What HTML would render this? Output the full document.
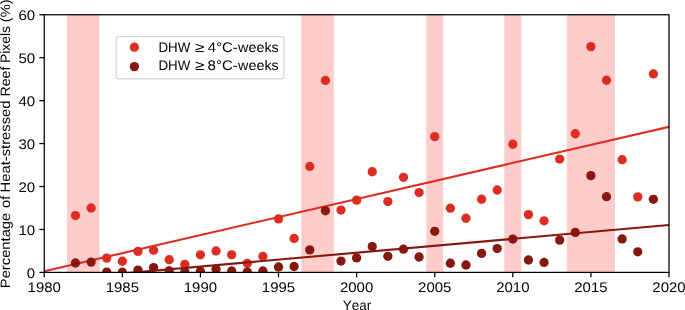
<!DOCTYPE html>
<html lang="en"><head><meta charset="utf-8"><title>Heat-stressed reef pixels</title>
<style>
html,body{margin:0;padding:0;background:#fff;}
body{width:685px;height:310px;overflow:hidden;}
svg{display:block;will-change:transform;}
svg text{text-rendering:geometricPrecision;}
text{font-family:"Liberation Sans",sans-serif;font-size:13.9px;fill:#000;font-kerning:none;}
</style></head><body>
<svg width="685" height="310" viewBox="0 0 685 310">
<rect x="0" y="0" width="685" height="310" fill="#ffffff"/>
<defs><clipPath id="ax"><rect x="44.25" y="14.75" width="624.75" height="257.65"/></clipPath></defs>
<g clip-path="url(#ax)">
<rect x="67.03" y="12.75" width="32.54" height="261.65" fill="#ffcccc"/>
<rect x="301.31" y="12.75" width="32.54" height="261.65" fill="#ffcccc"/>
<rect x="426.26" y="12.75" width="16.92" height="261.65" fill="#ffcccc"/>
<rect x="504.35" y="12.75" width="16.92" height="261.65" fill="#ffcccc"/>
<rect x="566.83" y="12.75" width="48.16" height="261.65" fill="#ffcccc"/>
<g fill="#dd2c22">
<circle cx="75.49" cy="215.54" r="4.65"/>
<circle cx="91.11" cy="208.02" r="4.65"/>
<circle cx="106.72" cy="258.09" r="4.65"/>
<circle cx="122.34" cy="261.23" r="4.65"/>
<circle cx="137.96" cy="251.39" r="4.65"/>
<circle cx="153.58" cy="250.19" r="4.65"/>
<circle cx="169.20" cy="259.72" r="4.65"/>
<circle cx="184.82" cy="264.41" r="4.65"/>
<circle cx="200.44" cy="254.83" r="4.65"/>
<circle cx="216.06" cy="250.92" r="4.65"/>
<circle cx="231.68" cy="254.83" r="4.65"/>
<circle cx="247.29" cy="263.29" r="4.65"/>
<circle cx="262.91" cy="256.29" r="4.65"/>
<circle cx="278.53" cy="218.97" r="4.65"/>
<circle cx="294.15" cy="238.47" r="4.65"/>
<circle cx="309.77" cy="166.46" r="4.65"/>
<circle cx="325.39" cy="80.44" r="4.65"/>
<circle cx="341.01" cy="210.08" r="4.65"/>
<circle cx="356.62" cy="200.16" r="4.65"/>
<circle cx="372.24" cy="171.74" r="4.65"/>
<circle cx="387.86" cy="201.58" r="4.65"/>
<circle cx="403.48" cy="177.32" r="4.65"/>
<circle cx="419.10" cy="192.56" r="4.65"/>
<circle cx="434.72" cy="136.65" r="4.65"/>
<circle cx="450.34" cy="208.19" r="4.65"/>
<circle cx="465.96" cy="218.24" r="4.65"/>
<circle cx="481.57" cy="199.26" r="4.65"/>
<circle cx="497.19" cy="189.99" r="4.65"/>
<circle cx="512.81" cy="144.25" r="4.65"/>
<circle cx="528.43" cy="214.59" r="4.65"/>
<circle cx="544.05" cy="220.78" r="4.65"/>
<circle cx="559.67" cy="159.03" r="4.65"/>
<circle cx="575.29" cy="133.73" r="4.65"/>
<circle cx="590.91" cy="46.61" r="4.65"/>
<circle cx="606.52" cy="80.27" r="4.65"/>
<circle cx="622.14" cy="159.71" r="4.65"/>
<circle cx="637.76" cy="196.85" r="4.65"/>
<circle cx="653.38" cy="73.96" r="4.65"/>
</g>
<line x1="44.25" y1="271.20" x2="669.00" y2="126.80" stroke="#dd2c22" stroke-width="2.1"/>
<g fill="#86180f">
<circle cx="75.49" cy="262.99" r="4.65"/>
<circle cx="91.11" cy="262.09" r="4.65"/>
<circle cx="106.72" cy="272.05" r="4.65"/>
<circle cx="122.34" cy="272.26" r="4.65"/>
<circle cx="137.96" cy="270.12" r="4.65"/>
<circle cx="153.58" cy="267.54" r="4.65"/>
<circle cx="169.20" cy="270.80" r="4.65"/>
<circle cx="184.82" cy="271.83" r="4.65"/>
<circle cx="200.44" cy="271.40" r="4.65"/>
<circle cx="216.06" cy="269.26" r="4.65"/>
<circle cx="231.68" cy="270.98" r="4.65"/>
<circle cx="247.29" cy="271.92" r="4.65"/>
<circle cx="262.91" cy="270.98" r="4.65"/>
<circle cx="278.53" cy="266.98" r="4.65"/>
<circle cx="294.15" cy="266.51" r="4.65"/>
<circle cx="309.77" cy="249.89" r="4.65"/>
<circle cx="325.39" cy="210.81" r="4.65"/>
<circle cx="341.01" cy="261.06" r="4.65"/>
<circle cx="356.62" cy="257.88" r="4.65"/>
<circle cx="372.24" cy="246.54" r="4.65"/>
<circle cx="387.86" cy="256.29" r="4.65"/>
<circle cx="403.48" cy="249.20" r="4.65"/>
<circle cx="419.10" cy="256.98" r="4.65"/>
<circle cx="434.72" cy="231.30" r="4.65"/>
<circle cx="450.34" cy="263.25" r="4.65"/>
<circle cx="465.96" cy="265.01" r="4.65"/>
<circle cx="481.57" cy="253.41" r="4.65"/>
<circle cx="497.19" cy="248.56" r="4.65"/>
<circle cx="512.81" cy="239.07" r="4.65"/>
<circle cx="528.43" cy="259.98" r="4.65"/>
<circle cx="544.05" cy="262.47" r="4.65"/>
<circle cx="559.67" cy="240.10" r="4.65"/>
<circle cx="575.29" cy="232.41" r="4.65"/>
<circle cx="590.91" cy="175.65" r="4.65"/>
<circle cx="606.52" cy="196.69" r="4.65"/>
<circle cx="622.14" cy="238.94" r="4.65"/>
<circle cx="637.76" cy="251.82" r="4.65"/>
<circle cx="653.38" cy="199.29" r="4.65"/>
</g>
<line x1="44.25" y1="280.40" x2="669.00" y2="225.00" stroke="#86180f" stroke-width="2.1"/>
</g>
<rect x="44.25" y="14.75" width="624.75" height="257.65" fill="none" stroke="#000" stroke-width="1.25"/>
<g stroke="#000" stroke-width="1.25">
<line x1="44.25" y1="272.40" x2="44.25" y2="277.30"/>
<line x1="122.34" y1="272.40" x2="122.34" y2="277.30"/>
<line x1="200.44" y1="272.40" x2="200.44" y2="277.30"/>
<line x1="278.53" y1="272.40" x2="278.53" y2="277.30"/>
<line x1="356.62" y1="272.40" x2="356.62" y2="277.30"/>
<line x1="434.72" y1="272.40" x2="434.72" y2="277.30"/>
<line x1="512.81" y1="272.40" x2="512.81" y2="277.30"/>
<line x1="590.91" y1="272.40" x2="590.91" y2="277.30"/>
<line x1="669.00" y1="272.40" x2="669.00" y2="277.30"/>
<line x1="39.35" y1="272.40" x2="44.25" y2="272.40"/>
<line x1="39.35" y1="229.46" x2="44.25" y2="229.46"/>
<line x1="39.35" y1="186.52" x2="44.25" y2="186.52"/>
<line x1="39.35" y1="143.57" x2="44.25" y2="143.57"/>
<line x1="39.35" y1="100.63" x2="44.25" y2="100.63"/>
<line x1="39.35" y1="57.69" x2="44.25" y2="57.69"/>
<line x1="39.35" y1="14.75" x2="44.25" y2="14.75"/>
</g>
<g text-anchor="middle">
<text x="44.25" y="291.6" textLength="33.3" lengthAdjust="spacingAndGlyphs">1980</text>
<text x="122.34" y="291.6" textLength="33.3" lengthAdjust="spacingAndGlyphs">1985</text>
<text x="200.44" y="291.6" textLength="33.3" lengthAdjust="spacingAndGlyphs">1990</text>
<text x="278.53" y="291.6" textLength="33.3" lengthAdjust="spacingAndGlyphs">1995</text>
<text x="356.62" y="291.6" textLength="33.3" lengthAdjust="spacingAndGlyphs">2000</text>
<text x="434.72" y="291.6" textLength="33.3" lengthAdjust="spacingAndGlyphs">2005</text>
<text x="512.81" y="291.6" textLength="33.3" lengthAdjust="spacingAndGlyphs">2010</text>
<text x="590.91" y="291.6" textLength="33.3" lengthAdjust="spacingAndGlyphs">2015</text>
<text x="669.00" y="291.6" textLength="33.3" lengthAdjust="spacingAndGlyphs">2020</text>
</g>
<g text-anchor="end">
<text x="35.1" y="277.75" textLength="8.3" lengthAdjust="spacingAndGlyphs">0</text>
<text x="35.1" y="234.81" textLength="16.7" lengthAdjust="spacingAndGlyphs">10</text>
<text x="35.1" y="191.87" textLength="16.7" lengthAdjust="spacingAndGlyphs">20</text>
<text x="35.1" y="148.92" textLength="16.7" lengthAdjust="spacingAndGlyphs">30</text>
<text x="35.1" y="105.98" textLength="16.7" lengthAdjust="spacingAndGlyphs">40</text>
<text x="35.1" y="63.04" textLength="16.7" lengthAdjust="spacingAndGlyphs">50</text>
<text x="35.1" y="20.10" textLength="16.7" lengthAdjust="spacingAndGlyphs">60</text>
</g>
<text y="309.6"><tspan x="342.80" textLength="28.42" lengthAdjust="spacingAndGlyphs">Year</tspan></text>
<text transform="translate(10.15,0) rotate(-90)" style="font-size:13.6px"><tspan x="-288.21" textLength="75.47" lengthAdjust="spacingAndGlyphs">Percentage</tspan> <tspan x="-207.92" textLength="12.30" lengthAdjust="spacingAndGlyphs">of</tspan> <tspan x="-192.51" textLength="92.07" lengthAdjust="spacingAndGlyphs">Heat-stressed</tspan> <tspan x="-96.46" textLength="29.84" lengthAdjust="spacingAndGlyphs">Reef</tspan> <tspan x="-62.94" textLength="36.94" lengthAdjust="spacingAndGlyphs">Pixels</tspan> <tspan x="-22.21" textLength="22.82" lengthAdjust="spacingAndGlyphs">(%)</tspan></text>
<rect x="116.15" y="36.6" width="167.85" height="42.35" rx="2.6" ry="2.6" fill="#ffffff" fill-opacity="0.8" stroke="#cccccc" stroke-opacity="0.8" stroke-width="1.3"/>
<circle cx="134.4" cy="47.2" r="4.65" fill="#dd2c22"/>
<circle cx="134.4" cy="66.6" r="4.65" fill="#86180f"/>
<text y="51.55"><tspan x="158.41" textLength="31.84" lengthAdjust="spacingAndGlyphs">DHW</tspan> <tspan x="194.96" textLength="9.38" lengthAdjust="spacingAndGlyphs">≥</tspan> <tspan x="207.86" textLength="29.90" lengthAdjust="spacingAndGlyphs">4°C-</tspan><tspan x="238.12" textLength="40.60" lengthAdjust="spacingAndGlyphs">weeks</tspan></text>
<text y="70.45"><tspan x="158.41" textLength="31.84" lengthAdjust="spacingAndGlyphs">DHW</tspan> <tspan x="194.96" textLength="9.38" lengthAdjust="spacingAndGlyphs">≥</tspan> <tspan x="207.55" textLength="30.22" lengthAdjust="spacingAndGlyphs">8°C-</tspan><tspan x="238.12" textLength="40.60" lengthAdjust="spacingAndGlyphs">weeks</tspan></text>
</svg>
</body></html>
